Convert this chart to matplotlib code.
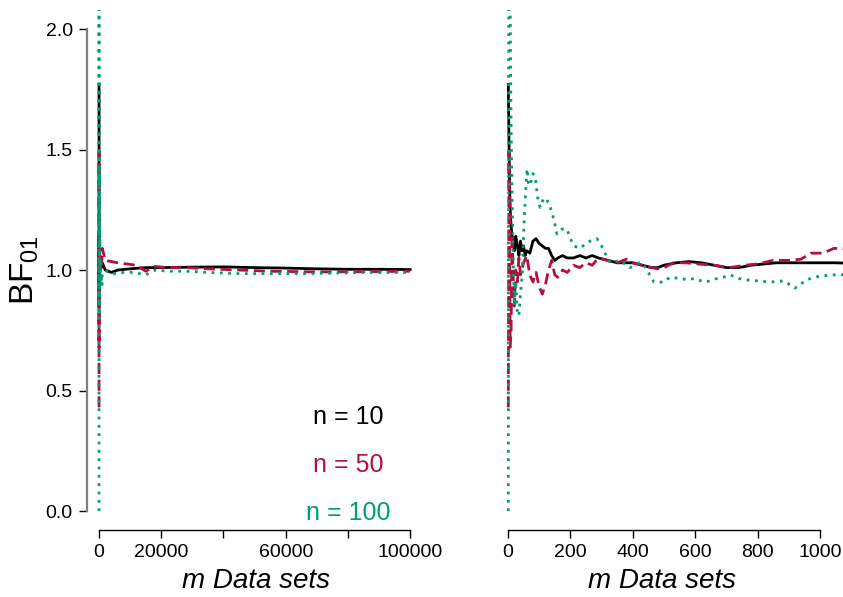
import matplotlib

matplotlib.use("Agg")
import matplotlib.pyplot as plt

plt.rcParams["font.family"] = ["Liberation Sans", "DejaVu Sans"]
plt.rcParams["mathtext.fontset"] = "custom"
plt.rcParams["mathtext.rm"] = "Liberation Sans"
plt.rcParams["mathtext.it"] = "Liberation Sans:italic"

BLACK = "#000000"
RED = "#B0123C"
GREEN = "#009E73"

# n = 10 (solid black)
m_n10 = [1, 3, 5, 8, 12, 16, 20, 25, 30, 35, 40, 45, 50, 55, 60, 70, 80, 90,
         100, 110, 120, 130, 140, 150, 160, 175, 190, 210, 230, 250, 270, 290,
         320, 350, 380, 400, 430, 460, 480, 500, 540, 580, 620, 660, 700, 740,
         780, 820, 860, 900, 950, 1000, 1045,
         2000, 4000, 6000, 10000, 15000, 20000, 30000, 40000, 50000, 60000,
         70000, 80000, 90000, 100000]
bf_n10 = [1.77, 1.55, 1.35, 1.22, 1.15, 1.12, 1.08, 1.14, 1.10, 1.06, 1.12, 1.08,
          1.10, 1.06, 1.08, 1.07, 1.12, 1.13, 1.11, 1.10, 1.09, 1.09, 1.06, 1.04,
          1.05, 1.06, 1.05, 1.05, 1.06, 1.05, 1.06, 1.05, 1.04, 1.03, 1.03, 1.03,
          1.02, 1.01, 1.01, 1.02, 1.03, 1.035, 1.03, 1.02, 1.01, 1.01, 1.02,
          1.025, 1.03, 1.03, 1.03, 1.03, 1.03,
          1.00, 0.99, 1.00, 1.005, 1.01, 1.01, 1.012, 1.013, 1.01, 1.008,
          1.005, 1.003, 1.003, 1.002]

# n = 50 (dashed red)
m_n50 = [1, 3, 5, 7, 10, 13, 16, 20, 25, 30, 35, 40, 50, 60, 70, 80, 90, 100,
         110, 120, 130, 140, 150, 160, 175, 190, 210, 230, 250, 270, 290, 320,
         350, 380, 400, 430, 460, 480, 500, 530, 570, 610, 660, 710, 760, 800,
         850, 900, 940, 970, 1010, 1045,
         2000, 4000, 6000, 9000, 12000, 15000, 18000, 22000, 28000, 35000,
         45000, 55000, 65000, 75000, 85000, 100000]
bf_n50 = [0.43, 1.49, 1.20, 0.68, 0.75, 1.15, 1.00, 0.85, 1.00, 0.95, 1.05, 0.98,
          1.03, 1.06, 0.98, 0.95, 0.99, 0.93, 0.90, 0.94, 1.00, 1.04, 0.98, 0.97,
          1.00, 0.99, 1.02, 1.01, 1.03, 1.02, 1.05, 1.04, 1.03, 1.045, 1.03,
          1.02, 1.01, 1.005, 1.01, 1.03, 1.03, 1.025, 1.02, 1.01, 1.02, 1.025,
          1.04, 1.04, 1.045, 1.07, 1.07, 1.09,
          1.04, 1.035, 1.03, 1.025, 1.02, 0.995, 1.015, 1.01, 1.01, 1.005,
          1.00, 0.995, 0.993, 0.992, 0.993, 0.995]

# n = 100 (dotted green)
m_n100 = [1, 3, 9, 12, 16, 20, 25, 30, 35, 40, 45, 50, 55, 61, 66, 71, 80, 87,
          95, 103, 115, 131, 147, 157, 173, 189, 200, 211, 231, 250, 263, 285,
          300, 311, 327, 359, 391, 420, 436, 468, 500, 519, 550, 574, 600, 628,
          650, 670, 690, 712, 740, 756, 798, 840, 885, 920, 958, 1000, 1045,
          2000, 3000, 5000, 8000, 11000, 15000, 18000, 22000, 28000, 35000,
          45000, 55000, 65000, 75000, 85000, 100000]
bf_n100 = [0.00, 3.00, 1.71, 1.40, 1.10, 0.85, 0.95, 0.82, 0.81, 0.90, 0.97,
           1.15, 1.29, 1.42, 1.36, 1.35, 1.40, 1.39, 1.30, 1.26, 1.30, 1.28,
           1.21, 1.15, 1.17, 1.17, 1.13, 1.10, 1.09, 1.11, 1.12, 1.13, 1.10,
           1.07, 1.03, 1.04, 1.01, 1.03, 1.02, 0.95, 0.95, 0.97, 0.965, 0.96,
           0.965, 0.95, 0.955, 0.965, 0.97, 0.98, 0.965, 0.96, 0.955, 0.95,
           0.955, 0.925, 0.96, 0.975, 0.98,
           1.00, 0.99, 0.985, 0.99, 0.99, 0.98, 1.00, 0.995, 0.995, 0.99,
           0.985, 0.985, 0.985, 0.987, 0.99, 0.99]

legend_labels = ["n = 10", "n = 50", "n = 100"]
legend_y = [0.39, 0.19, -0.01]

left_ticks = [0, 20000, 40000, 60000, 80000, 100000]
left_ticklabels = ["0", "20000", "", "60000", "", "100000"]
right_ticks = [0, 200, 400, 600, 800, 1000]
y_ticks = [0.0, 0.5, 1.0, 1.5, 2.0]

series = [
    (m_n10, bf_n10, BLACK, "-", None),
    (m_n50, bf_n50, RED, "--", (4, 2)),
    (m_n100, bf_n100, GREEN, ":", (1, 2)),
]


def draw_lines(ax):
    for m, bf, color, ls, dashes in series:
        (line,) = ax.plot(m, bf, color=color, linewidth=2.0, linestyle=ls)
        if dashes is not None:
            line.set_dashes(dashes)


fig = plt.figure(figsize=(8.43, 5.97), dpi=100)
ax1 = fig.add_axes([0.1027, 0.1117, 0.3986, 0.872])
ax2 = fig.add_axes([0.5878, 0.1117, 0.4122, 0.872])

draw_lines(ax1)
ax1.set_xlim(-4000, 104000)
ax1.set_ylim(-0.08, 2.08)
ax1.set_xticks(left_ticks)
ax1.set_xticklabels(left_ticklabels)
ax1.set_yticks(y_ticks)
ax1.set_yticklabels([f"{v:.1f}" for v in y_ticks])
ax1.spines["left"].set_bounds(0, 2)
ax1.spines["left"].set_color("#808080")
ax1.spines["left"].set_linewidth(1.6)
ax1.spines["bottom"].set_bounds(0, 100000)
ax1.set_ylabel("BF$_{01}$", fontsize=24, labelpad=3)
for label, y, color in zip(legend_labels, legend_y, [BLACK, RED, GREEN]):
    ax1.text(80000, y, label, color=color, fontsize=18, ha="center", va="center")

draw_lines(ax2)
ax2.set_xlim(-40, 1074)
ax2.set_ylim(-0.08, 2.08)
ax2.set_xticks(right_ticks)
ax2.set_yticks([])
ax2.spines["left"].set_visible(False)
ax2.spines["bottom"].set_bounds(0, 1000)

for ax, xpos in [(ax1, 0.504), (ax2, 0.48)]:
    ax.spines["top"].set_visible(False)
    ax.spines["right"].set_visible(False)
    ax.spines["bottom"].set_linewidth(1.0)
    ax.tick_params(axis="both", direction="out", length=6, width=1.0,
                   labelsize=14, pad=4)
    ax.set_xlabel("m Data sets", fontsize=20, style="italic", labelpad=5)
    ax.xaxis.label.set_x(xpos)

fig.savefig("out.png", dpi=100)
